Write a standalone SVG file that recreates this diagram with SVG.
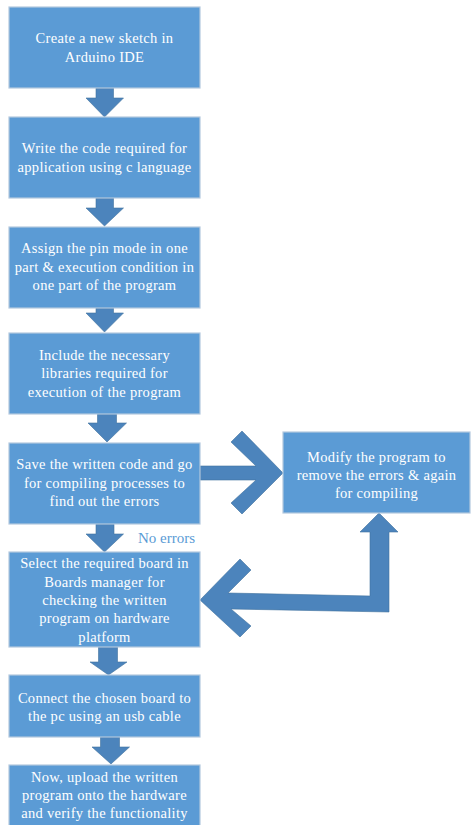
<svg xmlns="http://www.w3.org/2000/svg" width="471" height="825" viewBox="0 0 471 825">
<style>
.box{fill:#5B9BD5;stroke:#B3C8DE;stroke-width:1.2}
.arr{fill:#4C84BC;stroke:#42729E;stroke-width:0.6;stroke-linejoin:miter}
.t{font-family:"Liberation Serif","Times New Roman",serif;font-size:14.5px;fill:#FFFFFF;text-anchor:middle;letter-spacing:0.3px}
.lbl{font-family:"Liberation Serif","Times New Roman",serif;font-size:15px;fill:#5B9BD5}
</style>
<rect width="471" height="825" fill="#FFFFFF"/>
<g id="connectors">
<polygon class="arr" points="96,88 113.5,88 113.5,98 123.5,98 104.5,117 86,98 96,98"/>
<polygon class="arr" points="96,198 113.5,198 113.5,208 123.5,208 104.5,226 86,208 96,208"/>
<polygon class="arr" points="96,308 113.5,308 113.5,313 123.5,313 104.5,332 86,313 96,313"/>
<polygon class="arr" points="97.5,414 116.5,414 116.5,423 126.5,423 107,442 88,423 97.5,423"/>
<polygon class="arr" points="96,524 114,524 114,534 123.5,534 104.5,552 86,534 96,534"/>
<polygon class="arr" points="98.5,647 117.5,647 117.5,662 127,662 108.5,675 90,662 98.5,662"/>
<polygon class="arr" points="100.5,737 119.5,737 119.5,747 129.5,747 111,764 92,747 100.5,747"/>
<polygon class="arr" points="200,466 256,466 231,442 242,431 283,473 242,514 231,503 256,480 200,480"/>
<polygon class="arr" points="200,600 240,559 251,570 228,593 370,596 370,532 360,532 379,513 398,532 389,532 389,612 231,609 251,626 240,637"/>
<text class="lbl" x="138" y="543">No errors</text>
</g>
<g id="n1"><rect class="box" x="9" y="7" width="191" height="81"/>
<text class="t" x="104.5" y="43">Create a new sketch in</text>
<text class="t" x="104.5" y="62">Arduino IDE</text></g>
<g id="n2"><rect class="box" x="9" y="117" width="191" height="81"/>
<text class="t" x="104.5" y="153">Write the code required for</text>
<text class="t" x="104.5" y="172">application using c language</text></g>
<g id="n3"><rect class="box" x="9" y="227" width="191" height="81"/>
<text class="t" x="104.5" y="253">Assign the pin mode in one</text>
<text class="t" x="104.5" y="272">part &amp; execution condition in</text>
<text class="t" x="104.5" y="290">one part of the program</text></g>
<g id="n4"><rect class="box" x="9" y="333" width="191" height="81"/>
<text class="t" x="104.5" y="360">Include the necessary</text>
<text class="t" x="104.5" y="378">libraries required for</text>
<text class="t" x="104.5" y="397">execution of the program</text></g>
<g id="n5"><rect class="box" x="9" y="443" width="191" height="81"/>
<text class="t" x="104.5" y="469">Save the written code and go</text>
<text class="t" x="104.5" y="488">for compiling processes to</text>
<text class="t" x="104.5" y="506">find out the errors</text></g>
<g id="n6"><rect class="box" x="9" y="552" width="191" height="95"/>
<text class="t" x="104.5" y="568">Select the required board in</text>
<text class="t" x="104.5" y="587">Boards manager for</text>
<text class="t" x="104.5" y="605">checking the written</text>
<text class="t" x="104.5" y="623">program on hardware</text>
<text class="t" x="104.5" y="642">platform</text></g>
<g id="n7"><rect class="box" x="9" y="675" width="191" height="62"/>
<text class="t" x="104.5" y="703">Connect the chosen board to</text>
<text class="t" x="104.5" y="721">the pc using an usb cable</text></g>
<g id="n8"><rect class="box" x="9" y="765" width="191" height="70"/>
<text class="t" x="104.5" y="782">Now, upload the written</text>
<text class="t" x="104.5" y="800">program onto the hardware</text>
<text class="t" x="104.5" y="818">and verify the functionality</text></g>
<g id="n9"><rect class="box" x="283" y="432" width="187" height="81"/>
<text class="t" x="376.5" y="462">Modify the program to</text>
<text class="t" x="376.5" y="480">remove the errors &amp; again</text>
<text class="t" x="376.5" y="498">for compiling</text></g>
</svg>
